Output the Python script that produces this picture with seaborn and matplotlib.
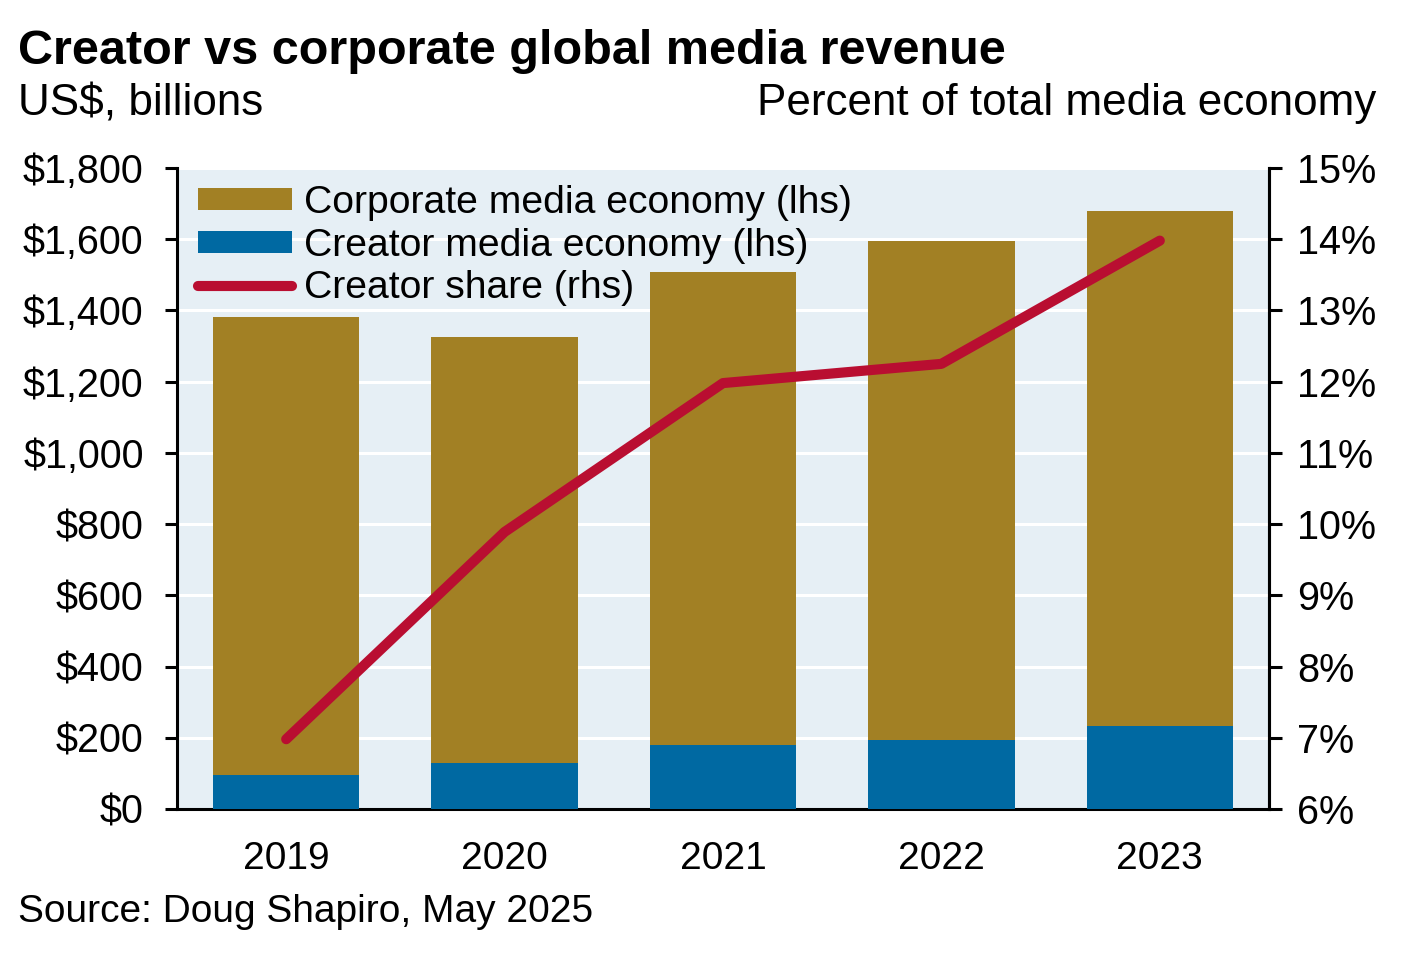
import numpy as np
import pandas as pd
import seaborn as sns
import matplotlib.pyplot as plt
from matplotlib.patches import Patch
from matplotlib.lines import Line2D
from matplotlib.ticker import FuncFormatter, MultipleLocator

years = ["2019", "2020", "2021", "2022", "2023"]
total_media = [1381, 1325, 1508, 1595, 1679]
creator_media = [95, 129, 180, 194, 233]
creator_share = [6.98, 9.89, 11.98, 12.25, 13.98]

corporate_color = "#A28024"
creator_color = "#0069A2"
share_color = "#B90E31"
bg_color = "#E6EFF5"

sns.set_theme(style="white")
plt.rcParams["font.family"] = ["Liberation Sans", "DejaVu Sans"]
plt.rcParams["text.color"] = "black"
plt.rcParams["xtick.color"] = "black"
plt.rcParams["ytick.color"] = "black"
plt.rcParams["xtick.labelcolor"] = "black"
plt.rcParams["ytick.labelcolor"] = "black"

df = pd.DataFrame({"year": years, "total": total_media,
                   "creator": creator_media, "share": creator_share})

fig = plt.figure(figsize=(14.01, 9.57), dpi=100)
ax = fig.add_axes([177 / 1401, 1 - 809 / 957, (1269 - 177) / 1401, (809 - 168) / 957])
ax.set_facecolor(bg_color)

# total bar in corporate colour, creator part overlaid at the bottom
sns.barplot(data=df, x="year", y="total", color=corporate_color, width=0.67,
            saturation=1, linewidth=0, ax=ax, zorder=2)
sns.barplot(data=df, x="year", y="creator", color=creator_color, width=0.67,
            saturation=1, linewidth=0, ax=ax, zorder=3)

ax.set_xlim(-0.5, 4.5)
ax.set_ylim(0, 1800)
ax.yaxis.set_major_locator(MultipleLocator(200))
ax.yaxis.set_major_formatter(FuncFormatter(lambda v, p: f"${v:,.0f}"))
ax.grid(axis="y", color="white", linewidth=2.2, zorder=1)
ax.set_axisbelow(True)
ax.set_xlabel("")
ax.set_ylabel("")
ax.set_xticks(np.arange(5))
ax.set_xticklabels(years)
ax.set_xticks(np.arange(-0.5, 5, 1), minor=True)
ax.tick_params(axis="x", which="major", length=0, pad=23, labelsize=28)
ax.tick_params(axis="x", which="minor", length=10, width=2.2, color="black", direction="out")
ax.tick_params(axis="y", length=9, width=2.2, color="black", direction="out",
               labelsize=28.5, pad=15, left=True)
ax.spines["top"].set_visible(False)
for side in ["left", "bottom", "right"]:
    ax.spines[side].set_color("black")
    ax.spines[side].set_linewidth(2.2)

ax2 = ax.twinx()
sns.lineplot(data=df, x="year", y="share", color=share_color, linewidth=7.3,
             solid_capstyle="round", ax=ax2, zorder=5)
ax2.set_ylim(6, 15)
ax2.yaxis.set_major_locator(MultipleLocator(1))
ax2.yaxis.set_major_formatter(FuncFormatter(lambda v, p: f"{v:.0f}%"))
ax2.set_ylabel("")
ax2.tick_params(axis="y", length=9, width=2.2, color="black", direction="out",
                labelsize=28.5, pad=11, right=True)
ax2.spines["top"].set_visible(False)
ax2.spines["right"].set_color("black")
ax2.spines["right"].set_linewidth(2.2)
ax2.spines["left"].set_visible(False)
ax2.spines["bottom"].set_visible(False)
ax2.grid(False)

handles = [Patch(color=corporate_color, linewidth=0), Patch(color=creator_color, linewidth=0),
           Line2D([0], [0], color=share_color, linewidth=7.3, solid_capstyle="round")]
labels = ["Corporate media economy (lhs)", "Creator media economy (lhs)", "Creator share (rhs)"]
ax2.legend(handles, labels, loc="upper left", bbox_to_anchor=(0.004, 0.999), frameon=False,
           fontsize=28.2, handlelength=2.4, handleheight=0.5, handletextpad=0.3,
           labelspacing=0.17, borderaxespad=0.12, borderpad=0.3)

fig.text(18 / 1401, 1 - 52 / 957, "Creator vs corporate global media revenue",
         fontsize=35, fontweight="bold", va="center", ha="left")
fig.text(18 / 1401, 1 - 104 / 957, "US$, billions", fontsize=31.7, va="center", ha="left")
fig.text(1376 / 1401, 1 - 104 / 957, "Percent of total media economy", fontsize=31.7,
         va="center", ha="right")
fig.text(18 / 1401, 1 - 912 / 957, "Source: Doug Shapiro, May 2025", fontsize=28,
         va="center", ha="left")

fig.savefig("out.png", dpi=100)
